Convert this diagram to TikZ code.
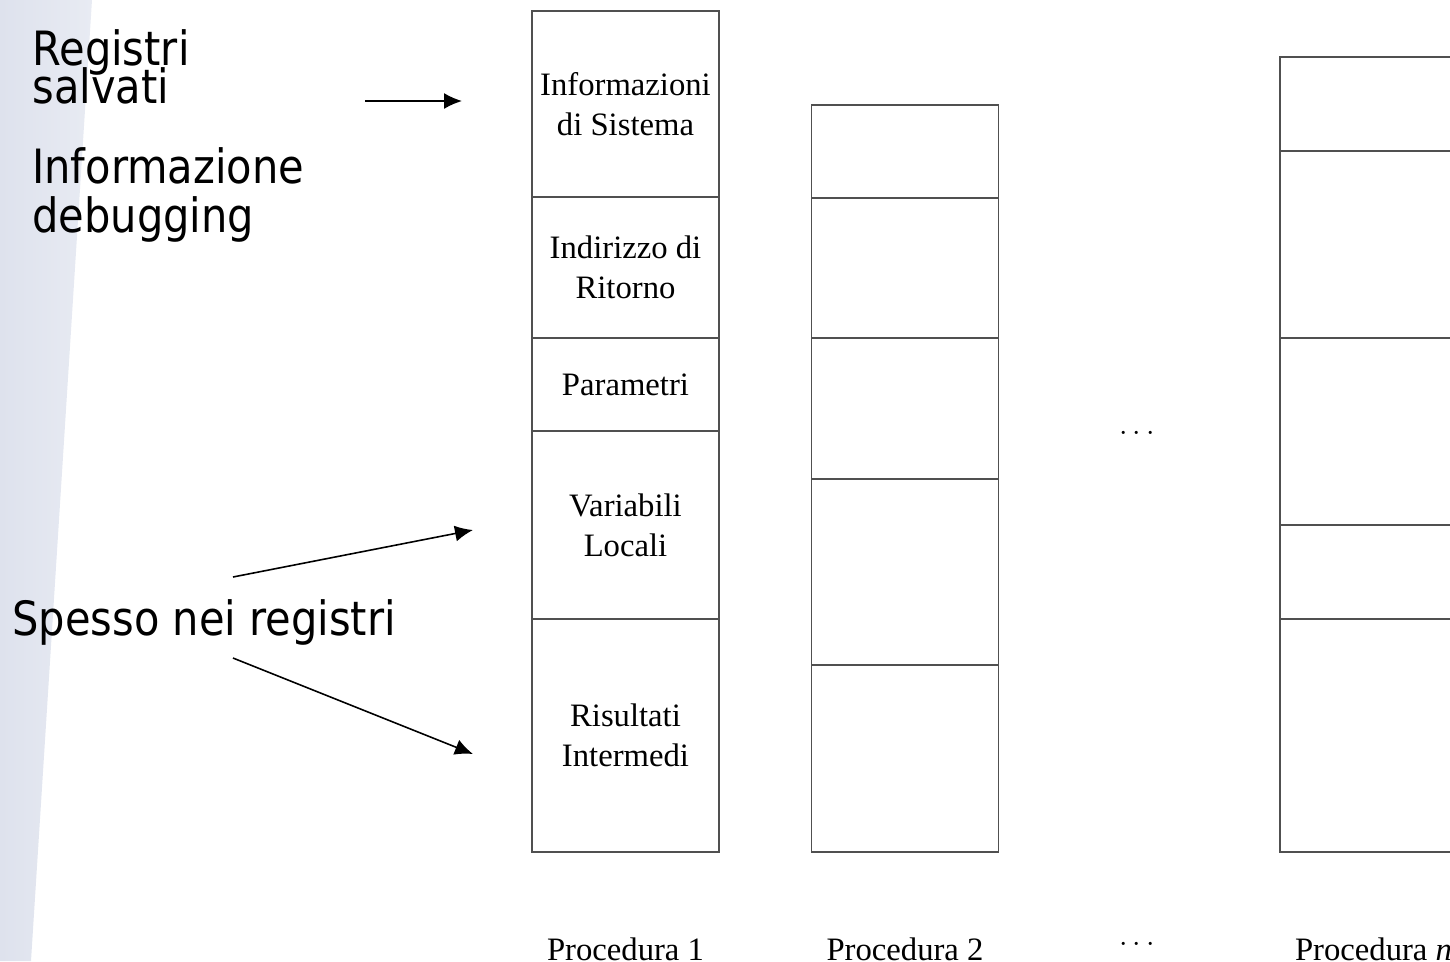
\documentclass[tikz,border=0pt]{standalone}
\usepackage{fontspec}
\setmainfont{Liberation Serif}
\newfontfamily\sansf[FakeStretch=0.88]{DejaVu Sans}
\usepackage{tikz}
\usetikzlibrary{arrows.meta}
\definecolor{bandaL}{RGB}{222,226,237}
\definecolor{bandaR}{RGB}{232,235,243}
\definecolor{linea}{RGB}{80,80,80}
\newcommand\sansStretto{\sansf\fontsize{26.9}{21.6}\selectfont\lineskiplimit=-50pt\relax\lineskip=0pt\relax}
\newcommand\sansLargo{\sansf\fontsize{26.9}{27.8}\selectfont\lineskiplimit=-50pt\relax\lineskip=0pt\relax}

\tikzset{
  cella/.style={draw=linea, line width=1pt, minimum width=3.74cm, inner sep=0pt, align=center,
    font=\fontsize{18.6}{22.7}\selectfont},
  etich/.style={inner sep=0pt, align=left, anchor=base west, font=\sansLargo},
  freccia/.style={-{Latex[length=0.36cm,width=0.32cm]}, line width=0.9pt},
  proc/.style={anchor=base, inner sep=0pt, font=\fontsize{18.6}{22.7}\selectfont}
}

\begin{document}
\begin{tikzpicture}[x=0.02cm, y=-0.02cm]
        \useasboundingbox (0,0) rectangle (1450,961);
        \clip (0,0) rectangle (1450,961);
        \shade[left color=bandaL, right color=bandaR] (0,0) -- (92,0) -- (31,961) -- (0,961) -- cycle;

        % Procedura 1
        \node[cella, minimum height=3.72cm] (c1a) at (625.5,104) {Informazioni\\di Sistema};
        \node[cella, minimum height=2.82cm] (c1b) at (625.5,267.5) {Indirizzo di\\Ritorno};
        \node[cella, minimum height=1.86cm] (c1c) at (625.5,384.5) {Parametri};
        \node[cella, minimum height=3.76cm] (c1d) at (625.5,525) {Variabili\\Locali};
        \node[cella, minimum height=4.66cm] (c1e) at (625.5,735.5) {Risultati\\Intermedi};

        % Procedura 2 e Procedura n
        \foreach \nome/\y/\h in {a/151.5/1.86, b/268/2.8, c/408.5/2.82, d/572/3.72, e/758.5/3.74}
            \node[cella, minimum height=\h cm] (c2\nome) at (905,\y) {};
        \foreach \nome/\y/\h in {a/104/1.88, b/244.5/3.74, c/431.5/3.74, d/572/1.88, e/735.5/4.66}
            \node[cella, minimum height=\h cm] (cn\nome) at (1373.5,\y) {};

        \node[proc] (pm) at (1137,440) {$\cdots$};
        \node[proc] (p1) at (625.5,960) {Procedura 1};
        \node[proc] (p2) at (905,960) {Procedura 2};
        \node[proc] (pd) at (1137,951) {$\cdots$};
        \node[proc] (pn) at (1373.5,960) {Procedura \textit{n}};

        % Etichette a sinistra
        \node[etich, font=\sansStretto] (rs) at (32,103) {Registri\\salvati};
        \node[etich] (id) at (32,232) {Informazione\\debugging};
        \node[etich] (snr) at (12,635) {Spesso nei registri};

        \coordinate (a1s) at (365,101);
        \coordinate (a1e) at (462,101);
        \coordinate (a2s) at (233,577);
        \coordinate (a2e) at (473,530);
        \coordinate (a3s) at (233,658);
        \coordinate (a3e) at (473,754);
        \draw[freccia] (a1s) -- (a1e);
        \draw[freccia] (a2s) -- (a2e);
        \draw[freccia] (a3s) -- (a3e);
\end{tikzpicture}
\end{document}
